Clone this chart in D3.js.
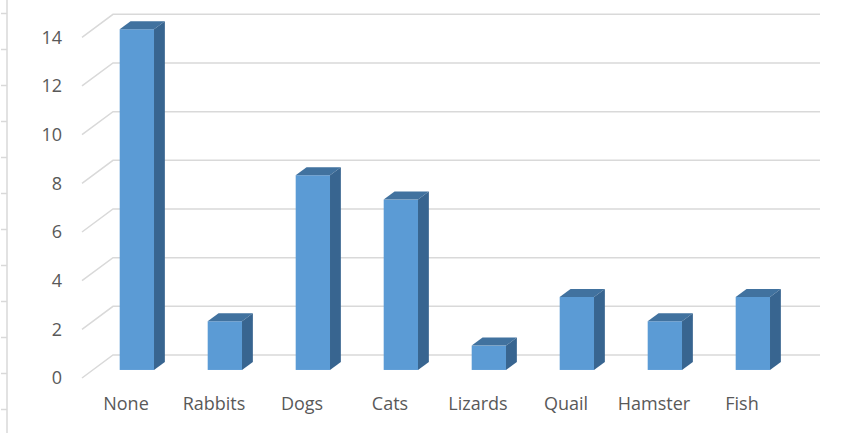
<!DOCTYPE html>
<html>
<head>
<meta charset="utf-8">
<script src="https://cdn.jsdelivr.net/npm/d3@7"></script>
<style>
body{margin:0;background:#fff;}
svg text{font-family:"Open Sans",sans-serif;fill:#595959;}
</style>
</head>
<body>
<script>
const categories=['None','Rabbits','Dogs','Cats','Lizards','Quail','Hamster','Fish'];
const counts=[14,2,8,7,1,3,2,3];
const yTicks=[0,2,4,6,8,10,12,14];
const rulerTicks=[0,1,2,3,4,5,6,7,8,9,10,11];

const width=858,height=433;
// depth of the 3d box, and where the bars sit inside it
const depthX=31,depthY=-23;
const f1=0.35,f2=0.70;

let svg=d3.select('body').append('svg')
  .attr('width',width).attr('height',height);

let xScale=d3.scaleBand().domain(categories).range([82,786]);
let yScale=d3.scaleLinear().domain([0,14]).range([378,37.3]);
let rScale=d3.scaleLinear().domain([0,11]).range([13,409]);

// the ruler line on the far left
svg.append('g').attr('transform','translate(7,0)')
  .call(d3.axisLeft(rScale).tickValues(rulerTicks).tickSize(6).tickFormat(''))
  .call(g=>g.select('.domain').attr('d','M0,0V433').attr('stroke','#d9d9d9').attr('stroke-width',1.5))
  .call(g=>g.selectAll('.tick line').attr('stroke','#d9d9d9').attr('stroke-width',1.5));

// gridlines: slanted floor part + back wall
let grid=svg.append('g');
grid.selectAll('path').data(yTicks).enter().append('path')
  .attr('d',d=>`M82,${yScale(d)}L${82+depthX},${yScale(d)+depthY}H820`)
  .attr('fill','none').attr('stroke','#d9d9d9').attr('stroke-width',1.5);

svg.append('g').selectAll('text').data(yTicks).enter().append('text')
  .attr('x',62).attr('y',d=>yScale(d)).attr('dy','0.36em')
  .attr('text-anchor','end').style('font-size','18px').text(d=>d);

let bw=xScale.bandwidth()*0.39;
let ddx=depthX*(f2-f1),ddy=depthY*(f2-f1);
let bars=svg.append('g').selectAll('g').data(categories).enter().append('g');
bars.each(function(c,i){
  let g=d3.select(this);
  let x0=xScale(c)+xScale.bandwidth()/2-bw/2+depthX*f1, x1=x0+bw;
  let yt=yScale(counts[i])+depthY*f1, yb=yScale(0)+depthY*f1;
  g.append('rect').attr('x',x0).attr('y',yt).attr('width',bw).attr('height',yb-yt).attr('fill','#5b9bd5');
  g.append('path').attr('d',`M${x0},${yt}L${x1},${yt}L${x1+ddx},${yt+ddy}L${x0+ddx},${yt+ddy}Z`).attr('fill','#41729f');
  g.append('path').attr('d',`M${x1},${yt}L${x1+ddx},${yt+ddy}L${x1+ddx},${yb+ddy}L${x1},${yb}Z`).attr('fill','#386590');
});

svg.append('g').selectAll('text').data(categories).enter().append('text')
  .attr('x',d=>xScale(d)+xScale.bandwidth()/2).attr('y',410)
  .attr('text-anchor','middle').style('font-size','18px').text(d=>d);
</script>
</body>
</html>
